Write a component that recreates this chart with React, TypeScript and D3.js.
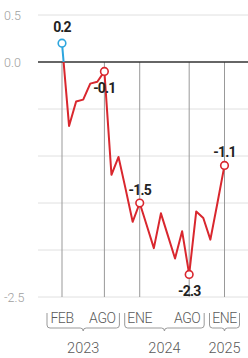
import React from 'react';
import * as d3 from 'd3';

// monthly values, Feb 2023 .. Jan 2025
const values = [
  0.2, -0.68, -0.42, -0.4, -0.23, -0.21, -0.1, -1.2, -1.01, -1.35, -1.7,
  -1.5, -1.74, -1.98, -1.61, -1.85, -2.09, -1.8, -2.26, -1.59, -1.66, -1.89, -1.5,
  -1.1,
];

const gridValues = [0.5, 0, -0.5, -1, -1.5, -2, -2.5];
const yTickLabels = ['0.5', '0.0', '', '', '', '', '-2.5'];

const markIdx = [0, 6, 11, 18, 23];
const markText = ['0.2', '-0.1', '-1.5', '-2.3', '-1.1'];

const monthIdx = [0, 6, 11, 18, 23];
const monthText = ['FEB', 'AGO', 'ENE', 'AGO', 'ENE'];

const years = ['2023', '2024', '2025'];
const yearSpan = [[0, 6], [11, 18], [23, 23]];

const RED = '#d9272e';
const BLUE = '#2ea6de';

const brace = (a: number, b: number, top: number, bot: number) => {
  const m = (a + b) / 2;
  const r = 3;
  return `M${a},${top} V${bot - r} Q${a},${bot} ${a + r},${bot} H${m - r} Q${m},${bot} ${m},${bot + r} Q${m},${bot} ${m + r},${bot} H${b - r} Q${b},${bot} ${b},${bot - r} V${top}`;
};

export default function App() {
  const width = 248;
  const height = 358;

  const x = d3.scaleLinear().domain([0, values.length - 1]).range([62, 224.5]);
  const y = d3.scaleLinear().domain([0.5, -2.5]).range([15, 297]);

  const line = d3
    .line<number>()
    .x((_, i) => x(i))
    .y((d) => y(d));
  const path = line(values) || '';

  const y0 = y(0);

  return (
    <svg
      width={width}
      height={height}
      style={{ position: 'absolute', left: 0, top: 0, background: '#fff' }}
      fontFamily="Roboto, 'Noto Sans', sans-serif"
    >
      <defs>
        <clipPath id="above">
          <rect x={0} y={0} width={width} height={y0} />
        </clipPath>
        <clipPath id="below">
          <rect x={0} y={y0} width={width} height={height - y0} />
        </clipPath>
      </defs>

      {/* horizontal grid */}
      {gridValues.map((v) =>
        v === 0 ? null : (
          <line key={v} x1={38} x2={width} y1={y(v)} y2={y(v)} stroke="#e0e0e0" strokeWidth={1} />
        )
      )}
      {gridValues.map((v, i) =>
        yTickLabels[i] ? (
          <text key={'t' + v} x={4} y={y(v) + 4.5} fontSize={12.5} fill="#a0a0a0" fontWeight={300}>
            {yTickLabels[i]}
          </text>
        ) : null
      )}

      {/* vertical guides */}
      {monthIdx.map((m) => (
        <line key={'v' + m} x1={x(m)} x2={x(m)} y1={y0} y2={y(-2.5)} stroke="#999" strokeWidth={1} />
      ))}

      <line x1={38} x2={width} y1={y0} y2={y0} stroke="#333" strokeWidth={1.6} />

      {/* data line */}
      <path d={path} fill="none" stroke={BLUE} strokeWidth={2} clipPath="url(#above)" />
      <path d={path} fill="none" stroke={RED} strokeWidth={2} strokeLinejoin="round" clipPath="url(#below)" />

      {markIdx.map((m, i) => {
        const v = values[m];
        const cx = x(m);
        const cy = y(v);
        const above = i === 0 || i === 2 || i === 4;
        return (
          <g key={'m' + m}>
            <circle cx={cx} cy={cy} r={3.8} fill="#fff" stroke={v > 0 ? BLUE : RED} strokeWidth={1.6} />
            <text
              x={cx}
              y={above ? cy - (i === 0 ? 11 : 8.5) : cy + 22}
              textAnchor="middle"
              fontSize={14}
              fontWeight={700}
              fill="#222"
              letterSpacing={-0.8}
            >
              {markText[i]}
            </text>
          </g>
        );
      })}

      {/* x axis labels */}
      {monthIdx.map((m, i) => (
        <text
          key={'x' + i}
          x={x(m) - (monthText[i] === 'AGO' ? 2 : 0)}
          y={323}
          textAnchor="middle"
          fontSize={14}
          fontWeight={300}
          fill="#5a5a5a"
          letterSpacing={-0.4}
        >
          {monthText[i]}
        </text>
      ))}

      {years.map((yr, i) => {
        const a = x(yearSpan[i][0]) - 15;
        const b = x(yearSpan[i][1]) + 15;
        return (
          <g key={yr}>
            <path d={brace(a, b, 313, 328)} fill="none" stroke="#999" strokeWidth={1} />
            <text x={(a + b) / 2} y={353} textAnchor="middle" fontSize={14.5} fontWeight={300} fill="#5a5a5a">
              {yr}
            </text>
          </g>
        );
      })}
    </svg>
  );
}
